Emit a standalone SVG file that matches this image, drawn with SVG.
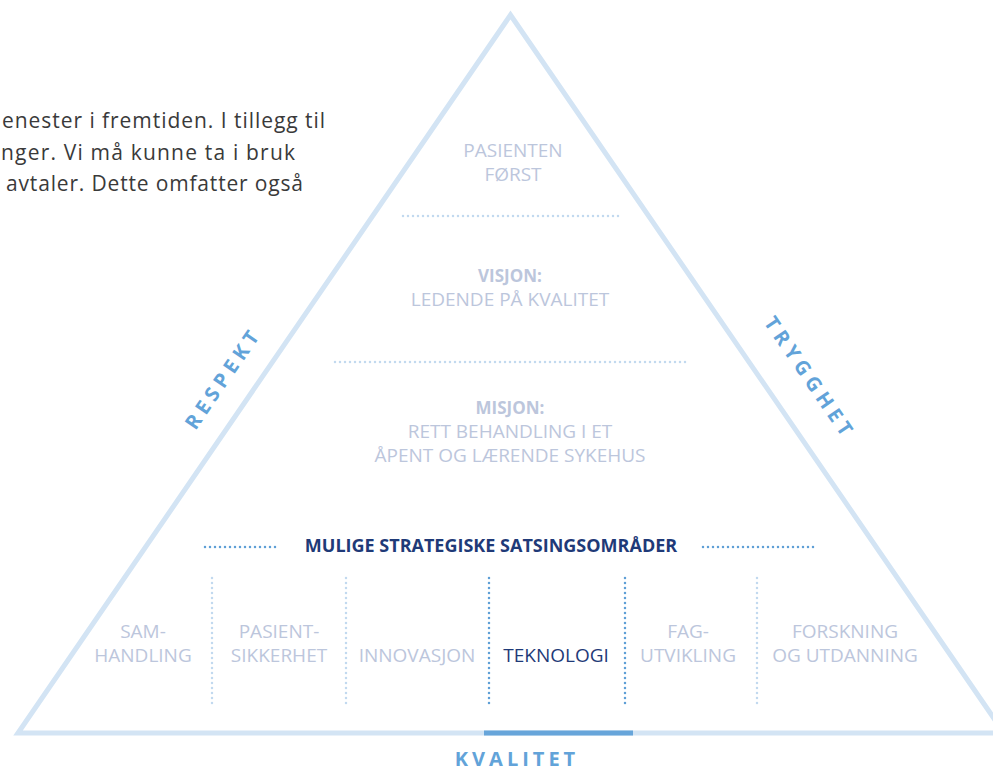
<svg xmlns="http://www.w3.org/2000/svg" width="993" height="771" viewBox="0 0 993 771">
<style>
.para{font-family:"Open Sans","Liberation Sans",sans-serif;font-size:21px;fill:#3a3a3a}
.lbl{font-family:"Open Sans","Liberation Sans",sans-serif;font-size:19px;fill:#bcc6dc;text-anchor:middle}
.lblb{font-family:"Open Sans","Liberation Sans",sans-serif;font-size:17px;font-weight:bold;fill:#bcc6dc;text-anchor:middle}
.navy{fill:#1f3a78}
.side{font-family:"Open Sans","Liberation Sans",sans-serif;font-size:20px;font-weight:bold;fill:#62a3d9;letter-spacing:5px;text-anchor:middle}
.dotl{stroke:#c2d9ef;stroke-width:2.5;stroke-linecap:round;stroke-dasharray:0 5;fill:none}
.dotd{stroke:#5f9fd6;stroke-width:2.5;stroke-linecap:round;stroke-dasharray:0 5;fill:none}
</style>
<rect width="993" height="771" fill="#ffffff"/>
<g id="paragraph">
<text class="para" x="2" y="128" textLength="323" lengthAdjust="spacing">enester i fremtiden. I tillegg til</text>
<text class="para" x="1" y="160" textLength="294" lengthAdjust="spacing">nger. Vi må kunne ta i bruk</text>
<text class="para" x="6" y="191" textLength="297" lengthAdjust="spacing">avtaler. Dette omfatter også</text>
</g>
<g id="triangle">
<polygon points="510.5,15 18,733 1004,733" fill="none" stroke="#d3e4f4" stroke-width="5" stroke-linejoin="miter"/>
<line x1="484" y1="733" x2="633" y2="733" stroke="#67a5da" stroke-width="5"/>
</g>
<g id="connectors">
<line class="dotl" x1="403" y1="216" x2="623" y2="216"/>
<line class="dotl" x1="335" y1="362" x2="688" y2="362"/>
<line class="dotd" x1="205" y1="547" x2="280" y2="547"/>
<line class="dotd" x1="703" y1="547" x2="815" y2="547"/>
<line class="dotl" x1="212" y1="578" x2="212" y2="705"/>
<line class="dotl" x1="346" y1="578" x2="346" y2="705"/>
<line class="dotd" x1="489" y1="578" x2="489" y2="705"/>
<line class="dotd" x1="625" y1="578" x2="625" y2="705"/>
<line class="dotl" x1="757" y1="578" x2="757" y2="705"/>
</g>
<g id="pasienten">
<text class="lbl" x="513" y="157">PASIENTEN</text>
<text class="lbl" x="513" y="181">FØRST</text>
</g>
<g id="visjon">
<text class="lblb" x="510" y="282">VISJON:</text>
<text class="lbl" x="510" y="306">LEDENDE PÅ KVALITET</text>
</g>
<g id="misjon">
<text class="lblb" x="510" y="414">MISJON:</text>
<text class="lbl" x="510" y="438">RETT BEHANDLING I ET</text>
<text class="lbl" x="510" y="462">ÅPENT OG LÆRENDE SYKEHUS</text>
</g>
<g id="satsing">
<text class="lblb navy" x="491" y="552" style="font-size:18px">MULIGE STRATEGISKE SATSINGSOMRÅDER</text>
</g>
<g id="samhandling">
<text class="lbl" x="143" y="638">SAM-</text>
<text class="lbl" x="143" y="662">HANDLING</text>
</g>
<g id="pasientsikkerhet">
<text class="lbl" x="279" y="638">PASIENT-</text>
<text class="lbl" x="279" y="662">SIKKERHET</text>
</g>
<g id="innovasjon">
<text class="lbl" x="417" y="662">INNOVASJON</text>
</g>
<g id="teknologi">
<text class="lbl navy" x="556" y="662">TEKNOLOGI</text>
</g>
<g id="fagutvikling">
<text class="lbl" x="688" y="638">FAG-</text>
<text class="lbl" x="688" y="662">UTVIKLING</text>
</g>
<g id="forskning">
<text class="lbl" x="845" y="638">FORSKNING</text>
<text class="lbl" x="845" y="662">OG UTDANNING</text>
</g>
<g id="respekt">
<text class="side" transform="translate(229,382) rotate(-55.6)">RESPEKT</text>
</g>
<g id="trygghet">
<text class="side" transform="translate(804,382) rotate(55.6)">TRYGGHET</text>
</g>
<g id="kvalitet">
<text class="side" x="517" y="766" style="font-size:20px;letter-spacing:4px">KVALITET</text>
</g>
</svg>
